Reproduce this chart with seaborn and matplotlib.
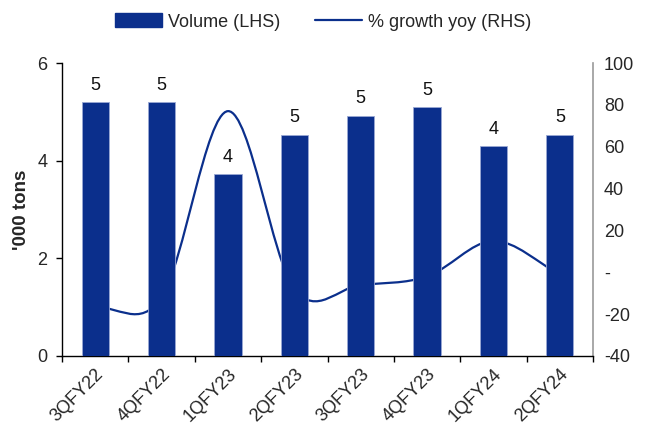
import matplotlib
matplotlib.use("Agg")
import matplotlib.pyplot as plt
from matplotlib.path import Path
from matplotlib.patches import PathPatch
from matplotlib.lines import Line2D
from matplotlib.patches import Patch
from matplotlib.ticker import FuncFormatter
import seaborn as sns
import pandas as pd
import numpy as np

categories = ["3QFY22", "4QFY22", "1QFY23", "2QFY23", "3QFY23", "4QFY23", "1QFY24", "2QFY24"]
volume = [5.2, 5.2, 3.73, 4.53, 4.92, 5.1, 4.3, 4.53]
growth = [-17, -12, 77, -8, -6, -2, 15, -1]

NAVY = "#0B2F8C"
FS = 13

sns.set_theme(style="white")
plt.rcParams["font.family"] = ["Liberation Sans", "DejaVu Sans"]

fig = plt.figure(figsize=(6.46, 4.30), dpi=100)
ax = fig.add_axes([62/646, 1-356/430, (593-62)/646, (356-63)/430])
ax2 = ax.twinx()

df = pd.DataFrame({"cat": categories, "vol": volume})
sns.barplot(data=df, x="cat", y="vol", ax=ax, color=NAVY, saturation=1,
            width=0.41, edgecolor="#9AA8D4", linewidth=0.6, zorder=3)

# smoothed growth line (Catmull-Rom style Bezier, like Excel smoothing)
xs = np.arange(len(growth), dtype=float)
ys = np.array(growth, dtype=float)
verts = [(xs[0], ys[0])]
codes = [Path.MOVETO]
n = len(xs)
for i in range(n - 1):
    p0 = ys[i - 1] if i > 0 else ys[i] - (ys[i + 1] - ys[i])
    p3 = ys[i + 2] if i + 2 < n else ys[i + 1] + (ys[i + 1] - ys[i])
    c1 = ys[i] + (ys[i + 1] - p0) / 6
    c2 = ys[i + 1] - (p3 - ys[i]) / 6
    verts += [(xs[i] + 1/3, c1), (xs[i] + 2/3, c2), (xs[i + 1], ys[i + 1])]
    codes += [Path.CURVE4] * 3
ax2.add_patch(PathPatch(Path(verts, codes), facecolor="none", edgecolor=NAVY, lw=1.6))

ax.set_zorder(ax2.get_zorder() + 1)
ax.patch.set_visible(False)

ax.set_xlim(-0.5, len(categories) - 0.5)
ax.set_ylim(0, 6)
ax.set_yticks([0, 2, 4, 6])
ax2.set_ylim(-40, 100)
ax2.set_yticks(list(range(-40, 101, 20)))
ax2.yaxis.set_major_formatter(FuncFormatter(lambda v, p: "-" if abs(v) < 1e-9 else f"{v:.0f}"))

# data labels
for i, v in enumerate(volume):
    ax.annotate(f"{v:.0f}", (i, v), xytext=(0, 6), textcoords="offset points",
                ha="center", va="bottom", fontsize=FS, color="#111111")

ax.set_xlabel("")
ax.set_ylabel("'000 tons", fontsize=13.5, fontweight="bold", labelpad=5)
ax.set_xticks(np.arange(len(categories)))
ax.set_xticklabels(categories, rotation=45, ha="right", rotation_mode="anchor", fontsize=FS)
ax.tick_params(axis="x", length=0, pad=7)
ax.set_xticks(np.arange(-0.5, len(categories), 1.0), minor=True)
ax.tick_params(axis="x", which="minor", length=4.5, width=1, color="black", direction="out", bottom=True)
ax.tick_params(axis="y", length=4.5, width=1, color="black", direction="out", left=True, labelsize=FS, pad=6)
ax2.tick_params(axis="y", length=0, labelsize=FS, pad=8)

for s in ["top", "right"]:
    ax.spines[s].set_visible(False)
ax.spines["left"].set_color("black")
ax.spines["bottom"].set_color("black")
ax.spines["left"].set_linewidth(1)
ax.spines["bottom"].set_linewidth(1)
ax2.spines["top"].set_visible(False)
ax2.spines["left"].set_visible(False)
ax2.spines["bottom"].set_visible(False)
ax2.spines["right"].set_color("#999999")
ax2.spines["right"].set_linewidth(1.2)

handles = [Patch(facecolor=NAVY, edgecolor=NAVY),
           Line2D([0], [0], color=NAVY, lw=1.6)]
fig.legend(handles, ["Volume (LHS)", "% growth yoy (RHS)"], loc="center",
           bbox_to_anchor=(0.5, 1 - 22/430), ncol=2, frameon=False, fontsize=FS,
           handlelength=2.6, handleheight=0.8, columnspacing=1.9, handletextpad=0.35)

fig.savefig("out.png", dpi=100)
